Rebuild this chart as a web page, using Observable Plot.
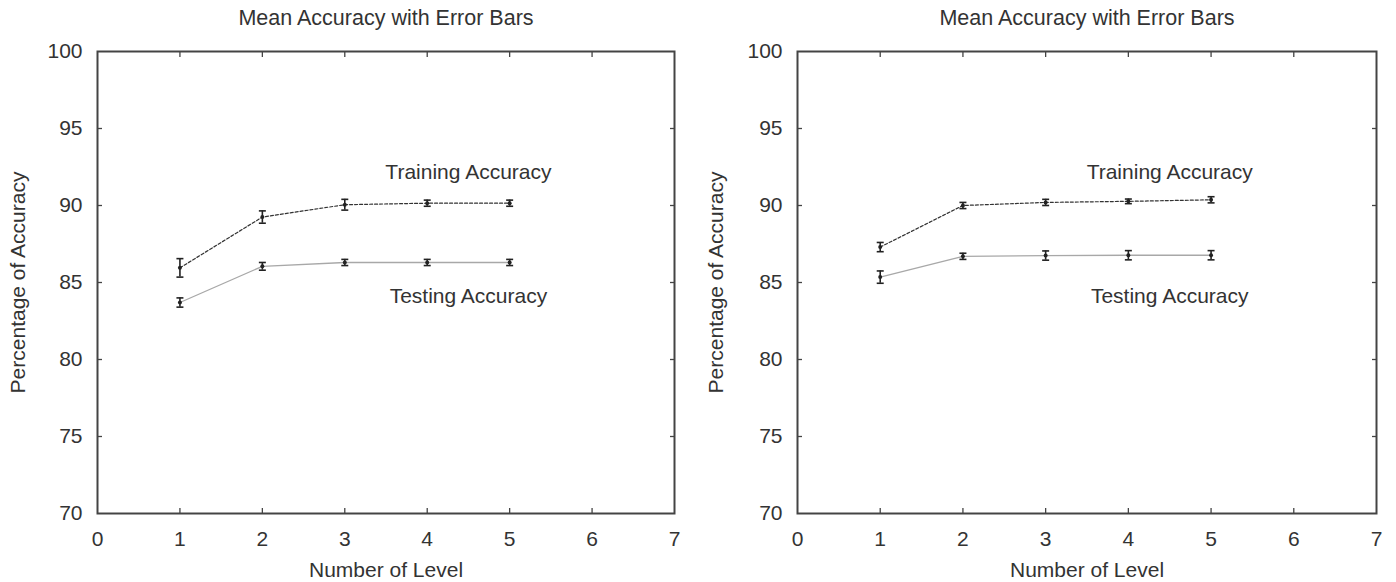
<!DOCTYPE html>
<html>
<head>
<meta charset="utf-8">
<script src="https://cdn.jsdelivr.net/npm/d3@7"></script>
<script src="https://cdn.jsdelivr.net/npm/@observablehq/plot@0.6"></script>
<style>
  html, body { margin: 0; padding: 0; background: #fff; }
  #fig { display: flex; width: 1396px; height: 582px; }
  svg { overflow: visible; }
</style>
</head>
<body>
<div id="fig"></div>
<script>
const levels = [1, 2, 3, 4, 5];
const leftTrainMean = [85.95, 89.25, 90.05, 90.15, 90.15];
const leftTrainErr  = [0.6, 0.4, 0.35, 0.2, 0.2];
const leftTestMean  = [83.7, 86.05, 86.3, 86.3, 86.3];
const leftTestErr   = [0.3, 0.25, 0.2, 0.2, 0.2];
const rightTrainMean = [87.3, 90.0, 90.2, 90.27, 90.37];
const rightTrainErr  = [0.3, 0.2, 0.2, 0.15, 0.2];
const rightTestMean  = [85.35, 86.7, 86.75, 86.77, 86.77];
const rightTestErr   = [0.4, 0.2, 0.3, 0.3, 0.3];

const xTicks = [0, 1, 2, 3, 4, 5, 6, 7];
const yTicks = [70, 75, 80, 85, 90, 95, 100];
const innerXTicks = [1, 2, 3, 4, 5, 6];
const innerYTicks = [75, 80, 85, 90, 95];

const seriesNames = ["Training Accuracy", "Testing Accuracy"];
const labelX = [4.5, 4.5];
const labelYLeft = [92.15, 84.1];
const labelYRight = [92.15, 84.1];

const titleText = "Mean Accuracy with Error Bars";
const xLabel = "Number of Level";
const yLabel = "Percentage of Accuracy";

const cap = {
  draw(ctx, size) {
    const w = Math.sqrt(size / Math.PI);
    ctx.moveTo(-w, 0); ctx.lineTo(w, 0);
  }
};

function rows(means, errs) {
  return levels.map((x, i) => ({x, y: means[i], lo: means[i] - errs[i], hi: means[i] + errs[i]}));
}

function makePlot(train, test, labelY, ml, mr) {
  const labels = seriesNames.map((t, i) => ({t, x: labelX[i], y: labelY[i]}));
  const all = train.concat(test);
  return Plot.plot({
    width: 698, height: 582,
    marginLeft: ml, marginRight: mr, marginTop: 51, marginBottom: 69,
    style: {fontFamily: "'Liberation Sans', Arial, sans-serif", fontSize: "21px", color: "#333", background: "#fff"},
    x: {domain: [0, 7]},
    y: {domain: [70, 100]},
    marks: [
      Plot.axisY(yTicks, {tickSize: 0, tickPadding: 15, label: null, fontSize: 21, fill: "#333"}),
      Plot.axisX(xTicks, {tickSize: 0, tickPadding: 18, label: null, fontSize: 21, fill: "#333"}),
      Plot.axisY(innerYTicks, {anchor: "left", tickSize: -5, tickFormat: () => "", label: null, stroke: "#444", strokeWidth: 1.3}),
      Plot.axisY(innerYTicks, {anchor: "right", tickSize: -5, tickFormat: () => "", label: null, stroke: "#444", strokeWidth: 1.3}),
      Plot.axisX(innerXTicks, {anchor: "bottom", tickSize: -5, tickFormat: () => "", label: null, stroke: "#444", strokeWidth: 1.3}),
      Plot.axisX(innerXTicks, {anchor: "top", tickSize: -5, tickFormat: () => "", label: null, stroke: "#444", strokeWidth: 1.3}),
      Plot.line(train, {x: "x", y: "y", stroke: "#333", strokeWidth: 1.2, strokeDasharray: "3,2"}),
      Plot.line(test, {x: "x", y: "y", stroke: "#a8a8a8", strokeWidth: 1.3}),
      Plot.ruleX(all, {x: "x", y1: "lo", y2: "hi", stroke: "#222", strokeWidth: 1.6}),
      Plot.dot(all, {x: "x", y: "lo", symbol: cap, r: 3.5, stroke: "#222", strokeWidth: 1.6}),
      Plot.dot(all, {x: "x", y: "hi", symbol: cap, r: 3.5, stroke: "#222", strokeWidth: 1.6}),
      Plot.dot(all, {x: "x", y: "y", r: 2, fill: "#222", stroke: null}),
      Plot.text(labels, {x: "x", y: "y", text: "t", fontSize: 21, fill: "#333"}),
      Plot.frame({stroke: "#444", strokeWidth: 2}),
      Plot.text([titleText], {frameAnchor: "top", dy: -33, text: d => d, fontSize: 21.5, fill: "#333", lineAnchor: "middle", textAnchor: "middle"}),
      Plot.text([xLabel], {frameAnchor: "bottom", dy: 57, text: d => d, fontSize: 21, fill: "#333", lineAnchor: "middle", textAnchor: "middle"}),
      Plot.text([yLabel], {frameAnchor: "left", dx: -(ml - 18), rotate: -90, text: d => d, fontSize: 21, fill: "#333", lineAnchor: "middle", textAnchor: "middle"})
    ]
  });
}

const fig = document.getElementById("fig");
fig.appendChild(makePlot(rows(leftTrainMean, leftTrainErr), rows(leftTestMean, leftTestErr), labelYLeft, 97, 24));
fig.appendChild(makePlot(rows(rightTrainMean, rightTrainErr), rows(rightTestMean, rightTestErr), labelYRight, 99, 20));
</script>
</body>
</html>
